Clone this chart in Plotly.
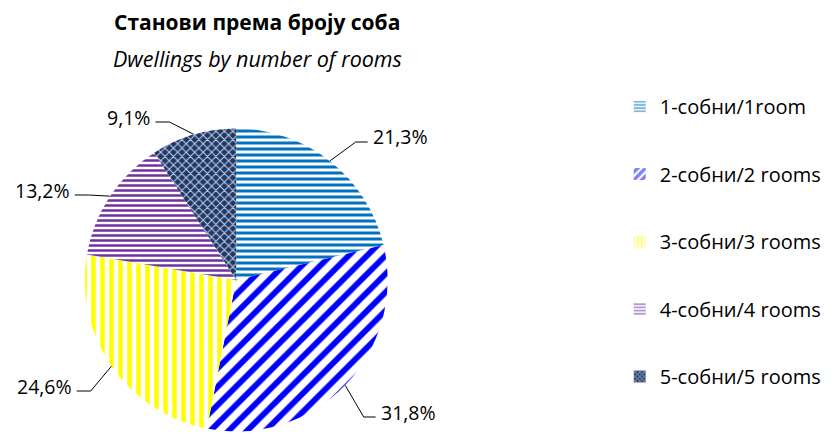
import math
import plotly.graph_objects as go

# ---- data ----
categories = ["1-собни/1room", "2-собни/2 rooms", "3-собни/3 rooms", "4-собни/4 rooms", "5-собни/5 rooms"]
shares = [21.3, 31.8, 24.6, 13.2, 9.1]

title_main = "Станови према броју соба"
title_sub = "Dwellings by number of rooms"

# ---- styles / layout ----
OFF = 8                    # page body margin
W, H = 834 - 2 * OFF, 441 - 2 * OFF
CX, CY, R = 237, 280, 152  # page pixels
FONT = "Open Sans"

fg = ["#0070C0", "#0000FF", "#FFFF00", "#7030A0", "#C9D3EA"]
bg = ["#FFFFFF", "#FFFFFF", "#FFFFFF", "#FFFFFF", "#1F3864"]
pshape = ["-", "/", "|", "-", "x"]
psize = [6, 13, 9, 5, 6]
psolid = [0.5, 0.45, 0.5, 0.5, 0.3]

# label text anchors (page pixels) and side
label_pos = [(372, 137, "left"), (380, 412, "left"), (74, 386, "right"), (72, 190, "right"), (153, 117, "right")]


def px(x):
    return (x - OFF) / W


def py(y):
    return 1 - (y - OFF) / H


def fmt(v):
    return f"{v:.1f}".replace(".", ",") + "%"


fig = go.Figure()
fig.add_trace(go.Pie(
    labels=categories, values=shares, sort=False, direction="clockwise", rotation=0,
    textinfo="none", hoverinfo="label+percent", showlegend=False,
    marker=dict(colors=bg, line=dict(width=0),
                pattern=dict(shape=pshape, fgcolor=fg, bgcolor=bg, size=psize,
                             solidity=psolid, fillmode="replace")),
    domain=dict(x=[px(CX - R), px(CX + R)], y=[py(CY + R), py(CY - R)]),
))

# legend entries (legend only)
for i, c in enumerate(categories):
    fig.add_trace(go.Bar(
        x=[None], y=[None], name=c, legendgroup=str(i), showlegend=True,
        marker=dict(color=bg[i], line=dict(width=0),
                    pattern=dict(shape=pshape[i], fgcolor=fg[i], bgcolor=bg[i],
                                 size=max(4, psize[i] // 2 + 1), solidity=0.6)),
    ))

# percentage labels with leader lines, edge points derived from data
total = sum(shares)
cum = 0.0
shapes = []
annotations = []
for i, v in enumerate(shares):
    mid = (cum + v / 2) / total * 2 * math.pi
    cum += v
    ex = CX + R * math.sin(mid)
    ey = CY - R * math.cos(mid)
    lx, ly, side = label_pos[i]
    if side == "left":
        ax0 = lx - 3
        ax1 = ax0 - 12
    else:
        ax0 = lx + 3
        ax1 = ax0 + 14
    ay = ly + 5
    path = f"M {px(ax0)},{py(ay)} L {px(ax1)},{py(ay)} L {px(ex)},{py(ey)}"
    shapes.append(dict(type="path", xref="paper", yref="paper", path=path,
                       line=dict(color="#000000", width=1)))
    annotations.append(dict(text=fmt(v), x=px(lx), y=py(ly), xref="paper", yref="paper",
                            xanchor=side, yanchor="middle", showarrow=False,
                            font=dict(family=FONT, size=19.5, color="#000000")))

annotations.append(dict(text=f"<b>{title_main}</b>", x=px(258), y=py(22), xref="paper", yref="paper",
                        xanchor="center", yanchor="middle", showarrow=False,
                        font=dict(family=FONT, size=21, color="#000000")))
annotations.append(dict(text=f"<i>{title_sub}</i>", x=px(258), y=py(58), xref="paper", yref="paper",
                        xanchor="center", yanchor="middle", showarrow=False,
                        font=dict(family=FONT, size=21.5, color="#000000")))

fig.update_layout(
    width=W, height=H,
    margin=dict(l=0, r=0, t=0, b=0),
    paper_bgcolor="white", plot_bgcolor="white",
    xaxis=dict(visible=False), yaxis=dict(visible=False),
    font=dict(family=FONT, size=20, color="#000000"),
    showlegend=True,
    legend=dict(x=px(622), y=py(87), xanchor="left", yanchor="top",
                tracegroupgap=38.5, font=dict(family=FONT, size=20, color="#000000"),
                bgcolor="rgba(0,0,0,0)", itemclick=False, itemdoubleclick=False),
    shapes=shapes, annotations=annotations,
)

fig.write_html("out.html")
